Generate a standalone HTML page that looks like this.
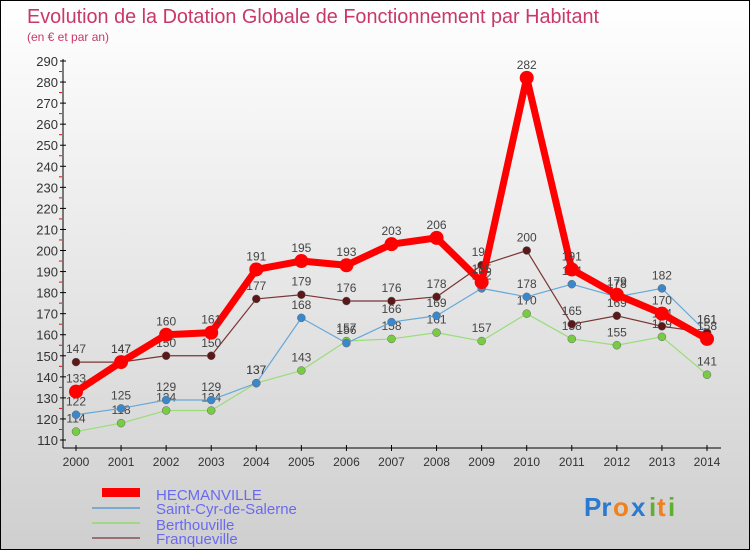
<!DOCTYPE html>
<html><head><meta charset="utf-8"><style>
body{margin:0}
#c{position:relative;width:750px;height:550px;background:linear-gradient(#ffffff,#cfcfcf);border:1px solid #000;box-sizing:border-box;overflow:hidden;font-family:"Liberation Sans",sans-serif}
svg text{font-family:"Liberation Sans",sans-serif}
</style></head><body>
<div id="c">
<svg id="s" width="750" height="550">
<text x="26" y="22" font-size="20" fill="#c8386a" textLength="572" lengthAdjust="spacingAndGlyphs">Evolution de la Dotation Globale de Fonctionnement par Habitant</text>
<text x="26" y="40" font-size="12" fill="#c8386a">(en € et par an)</text>
<g id="legend">
<rect x="101" y="487" width="38" height="9" fill="#ff0000"/>
<text x="155" y="499" font-size="15" fill="#6a6af0">HECMANVILLE</text>
<rect x="91" y="506" width="48" height="2" fill="#7aaad0"/>
<text x="155" y="513" font-size="15" fill="#6a6af0">Saint-Cyr-de-Salerne</text>
<rect x="91" y="521" width="48" height="2" fill="#a0d888"/>
<text x="155" y="529" font-size="15" fill="#6a6af0">Berthouville</text>
<rect x="91" y="536" width="48" height="2" fill="#9a7070"/>
<text x="155" y="543" font-size="15" fill="#6a6af0">Franqueville</text>
</g>
<g font-size="26" font-weight="bold">
<text x="583" y="515" fill="#2a7ad0">Pr</text><text x="612" y="515" fill="#f08020">o</text><text x="630" y="515" fill="#2a7ad0">x</text><text x="648" y="515" fill="#60b030">i</text><text x="656" y="515" fill="#f08020">t</text><text x="667" y="515" fill="#60b030">i</text>
</g>
</svg>
</div>
<script>
const years=[2000,2001,2002,2003,2004,2005,2006,2007,2008,2009,2010,2011,2012,2013,2014];
const hecmanville=[133,147,160,161,191,195,193,203,206,185,282,191,179,170,158];
const saintCyr=[122,125,129,129,137,168,156,166,169,182,178,184,178,182,161];
const berthouville=[114,118,124,124,137,143,157,158,161,157,170,158,155,159,141];
const franqueville=[147,147,150,150,177,179,176,176,178,193,200,165,169,164,161];
const yTicks=[110,120,130,140,150,160,170,180,190,200,210,220,230,240,250,260,270,280,290];
const NS="http://www.w3.org/2000/svg";
const s=document.getElementById('s');
const x=i=>75+i*(706-75)/(years.length-1);
const y=v=>439-(v-110)*(439-60)/180;
function mk(t,a,p){const e=document.createElementNS(NS,t);for(const k in a)e.setAttribute(k,a[k]);(p||s).appendChild(e);return e;}
const ax=mk('g',{});


mk('line',{x1:62,y1:58,x2:62,y2:447,stroke:'#000'},ax);
yTicks.forEach((v,i)=>{
 mk('line',{x1:59,y1:y(v),x2:65,y2:y(v),stroke:'#000'},ax);
 if(i<yTicks.length-1) mk('line',{x1:58,y1:y(v+5),x2:61,y2:y(v+5),stroke:'#ff0000'},ax);
 const t=mk('text',{x:57,y:y(v)+5,'font-size':13,fill:'#333','text-anchor':'end'},ax);t.textContent=v;
 
 
});
const xa=mk('g',{});


mk('line',{x1:62,y1:447,x2:720,y2:447,stroke:'#000'},xa);
years.forEach((yr,i)=>{
 mk('line',{x1:x(i),y1:444,x2:x(i),y2:450,stroke:'#000'},xa);
 const t=mk('text',{x:x(i),y:465,'font-size':12,fill:'#333','text-anchor':'middle'},xa);t.textContent=yr;
 
 
});
function series(name,vals,color,w,r,dot){
 const g=mk('g',{});
 
 
 mk('polyline',{points:vals.map((v,i)=>x(i)+','+y(v)).join(' '),fill:'none',stroke:color,'stroke-width':w,'stroke-linejoin':'round'},g);
 vals.forEach((v,i)=>{
  const c=mk('circle',{cx:x(i),cy:y(v),r:r,fill:dot,stroke:w>3?'none':'#666','stroke-width':0.5},g);
  
  
  const t=mk('text',{x:x(i),y:y(v)-9,'font-size':12,fill:'#444','text-anchor':'middle'},g);t.textContent=v;
  
  
 });
}
series('berthouville',berthouville,'#99dd77',1.2,4,'#77cc44');
series('saint-cyr',saintCyr,'#66a8d8',1.2,4,'#3a88cc');
series('franqueville',franqueville,'#7a3434',1.2,4,'#5a1818');
series('hecmanville',hecmanville,'#ff0000',7,7,'#ff0000');
</script>
</body></html>
